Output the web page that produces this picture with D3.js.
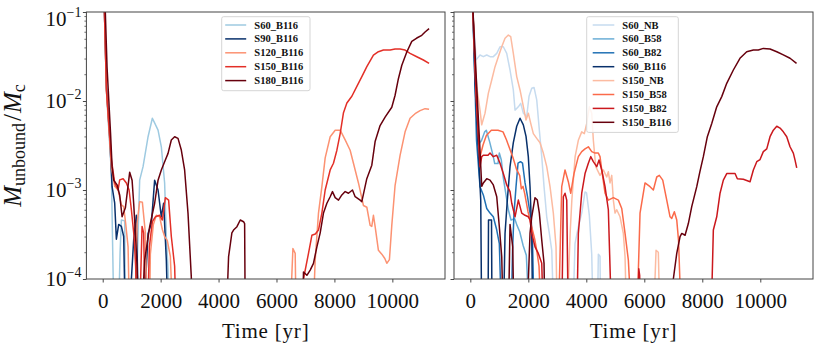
<!DOCTYPE html>
<html>
<head>
<meta charset="utf-8">
<script src="https://cdn.jsdelivr.net/npm/d3@7"></script>
<style>
  body { margin: 0; background: #fff; }
  text { font-family: "Liberation Serif", "DejaVu Serif", serif; }
</style>
</head>
<body>
<svg width="830" height="345"></svg>
<script>
// values: [time in yr, M_unbound / M_c]
// 3e-5 = dropped below the plotted range (gets clipped)

// ---- left panel ----
const L_S60_B116 = [[0,0.2],[60,0.1],[128,0.0133],[300,1.55e-3],[390,3e-5],[540,3e-5],[600,2.0e-4],[645,4.6e-4],[759,4.5e-4],[783,3e-5],
  [1128,3e-5],[1276,1.29e-3],[1393,1.83e-3],[1566,3.97e-3],[1714,6.4e-3],[1800,5.6e-3],[1911,4.7e-3],[2024,3.06e-3],[2138,1.2e-3],[2197,3.0e-4],[2256,1.26e-4],[2290,3e-5]];
const L_S90_B116 = [[0,0.2],[60,0.1],[130,0.014],[250,3.5e-3],[324,1.09e-3],[414,7.1e-4],[472,2.8e-4],[552,4.1e-4],[645,3.9e-4],[724,3.0e-4],[783,3e-5],
  [897,3e-5],[1069,2.74e-4],[1162,5.2e-4],[1242,3e-5],[1404,3e-5],[1566,3.25e-4],[1680,4.2e-4],[1793,1.29e-3],[1911,1e-3],[2024,5.0e-4],[2104,7.1e-4],[2197,1.63e-4],[2256,3e-5]];
const L_S120_B116 = [[0,0.2],[60,0.1],[130,0.013],[300,1.8e-3],[414,1.1e-3],[531,1e-3],[645,6.8e-4],[724,6.5e-4],[793,4.2e-4],[876,2.3e-4],[931,3e-5],
  [1104,3e-5],[1186,4.2e-4],[1276,7.4e-4],[1369,7.3e-4],[1473,3.3e-4],[1531,3e-5],[1611,3e-5],[1645,1.9e-4],[1749,4.1e-4],[1852,5.2e-4],[1966,5e-4],[2059,3.6e-4],
  [2138,3.0e-4],[2231,2.7e-4],[2335,1.8e-4],[2428,3e-5],[6460,3e-5],[6567,2.2e-4],[6646,1.94e-4],[6681,3e-5],[7250,3e-5],[7336,1.63e-4],[7450,5.5e-4],
  [7567,1.09e-3],[7681,2.3e-3],[7854,3.97e-3],[8026,4.7e-3],[8199,4.7e-3],[8371,3.65e-3],[8543,2.8e-3],[8657,2.0e-3],[8830,1.2e-3],[8947,8.1e-4],[9002,6.7e-4],
  [9119,6.4e-4],[9233,4.0e-4],[9290,3.9e-4],[9347,5.2e-4],[9405,3.9e-4],[9519,2.1e-4],[9636,1.9e-4],[9740,1.7e-4],[9809,1.5e-4],[9899,1.65e-4],[9981,4.0e-4],
  [10095,1.13e-3],[10267,2.45e-3],[10440,4.5e-3],[10612,6.4e-3],[10785,7.2e-3],[10957,7.8e-3],[11130,8.2e-3],[11268,8.1e-3]];
const L_S150_B116 = [[0,0.2],[60,0.1],[130,0.013],[300,2.2e-3],[414,1.2e-3],[531,1e-3],[586,1.3e-3],[704,1.34e-3],[817,1.2e-3],[911,1e-3],[990,6e-4],[1083,3.0e-4],
  [1138,1.37e-4],[1180,3e-5],[1266,3e-5],[1359,3.9e-4],[1414,3.3e-4],[1473,3e-5],[1542,3e-5],[1611,2.3e-4],[1714,4.4e-4],[1818,5.0e-4],[1966,5.2e-4],[2059,4.6e-4],
  [2163,8.2e-4],[2276,7.7e-4],[2369,3.0e-4],[2483,1.4e-4],[2542,3e-5],[6880,3e-5],[6932,1e-4],[7105,1.94e-4],[7222,3.1e-4],[7340,3.2e-4],[7450,3.55e-4],[7567,5.5e-4],
  [7681,1e-3],[7854,1.68e-3],[7967,2.0e-3],[8085,2.8e-3],[8199,4.3e-3],[8313,7.4e-3],[8430,9.5e-3],[8602,0.0113],[8775,0.0146],[8947,0.0188],[9119,0.0243],
  [9347,0.0328],[9519,0.0358],[9692,0.0374],[9923,0.0374],[10095,0.0384],[10267,0.0384],[10440,0.0374],[10612,0.0343],[10843,0.0314],[11071,0.0289],[11268,0.0265]];
const L_S180_B116 = [[0,0.25],[90,0.1],[150,0.024],[270,4.4e-3],[324,1.83e-3],[379,1.29e-3],[497,1.14e-3],[586,8.8e-4],[669,5.0e-4],[783,6.3e-4],[931,1.58e-3],
  [1014,1.29e-3],[1069,7.1e-4],[1128,3.3e-4],[1186,1.4e-4],[1240,3e-5],[1335,3e-5],[1449,1.63e-4],[1621,3.87e-4],[1793,7.1e-4],[1911,1.29e-3],[2024,1.68e-3],
  [2138,2.08e-3],[2256,2.58e-3],[2369,3.65e-3],[2483,3.97e-3],[2600,3.8e-3],[2714,2.81e-3],[2828,1.68e-3],[2945,5.5e-4],[3059,1.05e-4],[3100,3e-5],[4260,3e-5],
  [4346,1.78e-4],[4460,3.3e-4],[4518,3.55e-4],[4635,3.87e-4],[4749,4.6e-4],[4863,4.4e-4],[4900,4.2e-4],[4922,3e-5],[6900,3e-5],[6932,1.2e-4],[7050,1.1e-4],
  [7164,1.26e-4],[7277,1.5e-4],[7395,2.3e-4],[7509,3.3e-4],[7622,5.5e-4],[7740,7.1e-4],[7854,8.4e-4],[7933,9.6e-4],[8026,8.2e-4],[8140,7.7e-4],[8257,8.8e-4],
  [8371,9.6e-4],[8485,9.2e-4],[8623,1e-3],[8716,8.4e-4],[8888,7.7e-4],[8946,7.4e-4],[9118,1.34e-3],[9291,1.9e-3],[9405,3.5e-3],[9577,5.3e-3],[9750,6.6e-3],
  [9981,8.5e-3],[10095,0.0116],[10209,0.0178],[10327,0.0252],[10499,0.0355],[10671,0.0468],[10844,0.051],[11016,0.0547],[11130,0.0596],[11268,0.065]];

// ---- right panel ----
const R_S60_NB = [[0,0.2],[90,0.1],[200,0.029],[334,0.0329],[448,0.0315],[566,0.0329],[679,0.0315],[793,0.0315],[911,0.0343],[1024,0.0407],[1138,0.0407],
  [1255,0.0343],[1369,0.0223],[1483,0.0133],[1542,7.9e-3],[1656,8.6e-3],[1738,9.4e-3],[1828,7.3e-3],[1945,6.7e-3],[2025,0.0113],[2118,0.0139],[2197,0.0142],
  [2290,0.0103],[2380,4.7e-3],[2463,2.37e-3],[2542,1.09e-3],[2635,5.0e-4],[2725,3.25e-4],[2808,2.1e-4],[2887,3e-5],[3525,3e-5],[3611,2.5e-4],[3725,3.87e-4],
  [3842,5.5e-4],[3956,9.5e-4],[4008,9.3e-4],[4104,5.2e-4],[4187,1.9e-4],[4242,3e-5],[4380,3e-5],[4415,1.9e-4],[4473,1.8e-4],[4497,3e-5]];
const R_S60_B58 = [[0,0.2],[90,0.1],[200,0.01],[266,3.2e-3],[386,3.6e-3],[496,4.5e-3],[552,4.7e-3],[669,3.45e-3],[783,2.45e-3],[841,1.98e-3],[955,1.98e-3],
  [1000,2.6e-3],[1069,2.17e-3],[1138,1.37e-3],[1231,8.8e-4],[1311,6.0e-4],[1404,4.6e-4],[1531,4.75e-4],[1611,4.0e-4],[1704,3.4e-4],[1818,2.4e-4],[1931,1.85e-4],[2049,3e-5]];
const R_S60_B82 = [[0,0.2],[90,0.1],[214,3.6e-3],[334,1.09e-3],[448,8.8e-4],[566,6.2e-4],[679,5.5e-4],[793,5.0e-4],[911,3.55e-4],[1000,2.5e-4],[1083,3e-5],
  [1404,3e-5],[1456,2.1e-4],[1507,5.5e-4],[1576,1.09e-3],[1645,2.0e-3],[1731,2.08e-3],[1800,2.0e-3],[1887,1.2e-3],[1973,8.4e-4],[2059,5.5e-4],[2145,2.74e-4],[2204,3e-5]];
const R_S60_B116 = [[0,0.2],[90,0.1],[162,0.0158],[276,2.8e-3],[359,7.7e-4],[393,3e-5],[610,3e-5],[627,4.6e-4],[731,4.6e-4],[748,3e-5],[1138,3e-5],[1197,3.25e-4],
  [1276,7.7e-4],[1369,1.83e-3],[1483,3.4e-3],[1600,5.2e-3],[1714,6.4e-3],[1828,5.4e-3],[1921,4.0e-3],[2000,2.37e-3],[2059,1.09e-3],[2118,3.25e-4],[2152,3e-5]];
const R_S150_NB = [[0,0.2],[90,0.1],[162,0.0289],[221,0.0145],[334,7.9e-3],[393,5.4e-3],[507,7.3e-3],[621,0.0122],[738,0.0172],[852,0.0243],[966,0.0314],
  [1083,0.0407],[1197,0.0507],[1311,0.0551],[1393,0.0528],[1483,0.0343],[1600,0.0188],[1714,0.0133],[1807,9.4e-3],[1921,6.1e-3],[2000,7.3e-3],[2083,5.6e-3],
  [2173,4.3e-3],[2290,3.8e-3],[2404,3.4e-3],[2518,2.6e-3],[2635,1.83e-3],[2749,1.09e-3],[2863,5.5e-4],[2956,2.3e-4],[3001,3e-5],[3328,3e-5],[3442,3.25e-4],
  [3501,7.7e-4],[3614,2.37e-3],[3728,3.65e-3],[3842,4.5e-3],[3932,4.3e-3],[4015,5.6e-3],[4104,8.6e-3],[4187,7.3e-3],[4242,3.65e-3],[4325,1.83e-3],[4473,1.46e-3],
  [4587,1.68e-3],[4704,1.4e-3],[4760,1.6e-3],[4818,1.2e-3],[4877,1.46e-3],[4932,7.7e-4],[4991,5.5e-4],[5049,6.0e-4],[5163,5.0e-4],[5277,3.25e-4],[5336,1.78e-4],
  [5394,3e-5],[6312,3e-5],[6405,2.1e-4],[6484,2.0e-4],[6543,3e-5]];
const R_S150_B58 = [[0,0.2],[90,0.1],[200,0.012],[324,2.3e-3],[438,3.2e-3],[552,4.1e-3],[724,4.7e-3],[955,4.7e-3],[1128,4.5e-3],[1242,3.7e-3],[1359,2.9e-3],
  [1473,2.3e-3],[1587,1.73e-3],[1704,1.45e-3],[1759,1.03e-3],[1818,1.1e-3],[1876,9.1e-4],[1990,5.7e-4],[2104,4.0e-4],[2221,2.8e-4],[2300,2.0e-4],[2369,1.4e-4],
  [2449,3e-5],[3035,3e-5],[3152,1.09e-3],[3266,1.68e-3],[3380,1.24e-3],[3463,9.2e-4],[3576,1.53e-3],[3725,2.37e-3],[3842,2.7e-3],[3956,2.9e-3],[4070,3.06e-3],
  [4187,2.7e-3],[4301,2.6e-3],[4415,2.6e-3],[4473,2.37e-3],[4532,1.68e-3],[4646,9.2e-4],[4760,7.7e-4],[4932,8.2e-4],[5105,7.7e-4],[5222,6.2e-4],[5336,3.25e-4],
  [5450,1.63e-4],[5567,3e-5],[5739,3e-5],[5853,5.5e-4],[6025,1.2e-3],[6198,1.09e-3],[6312,1e-3],[6429,1.4e-3],[6518,1.46e-3],[6636,1.29e-3],[6774,7.7e-4],
  [6888,5.0e-4],[6946,4.8e-4],[7036,5.7e-4],[7119,4.6e-4],[7181,2.7e-4],[7280,3e-5]];
const R_S150_B82 = [[0,0.2],[90,0.1],[200,0.012],[334,1.83e-3],[393,2.37e-3],[448,2.46e-3],[610,2.46e-3],[679,2.6e-3],[793,2.37e-3],[911,2.46e-3],[1024,2.0e-3],
  [1138,1.53e-3],[1255,1.14e-3],[1369,9.6e-4],[1428,7.1e-4],[1542,5.0e-4],[1656,7.7e-4],[1773,5.5e-4],[1887,5.2e-4],[2000,5.0e-4],[2059,4.6e-4],[2118,3.25e-4],
  [2231,2.3e-4],[2345,1.94e-4],[2463,1.5e-4],[2525,3e-5],[3152,3e-5],[3208,8.4e-4],[3266,9.2e-4],[3325,7.7e-4],[3380,3e-5],[3670,3e-5],[3725,3.25e-4],[3842,9.2e-4],
  [3956,1.53e-3],[4070,2.0e-3],[4153,2.37e-3],[4242,2.08e-3],[4360,1.83e-3],[4439,2.17e-3],[4532,1.68e-3],[4646,1.09e-3],[4760,6.0e-4],[4877,3e-5],[5780,3e-5],
  [5810,1.3e-4],[5840,1.1e-4],[5870,3e-5],[8300,3e-5],[8381,3.55e-4],[8498,5.0e-4],[8612,9.2e-4],[8726,1.29e-3],[8843,1.53e-3],[9016,1.53e-3],[9130,1.53e-3],
  [9209,1.34e-3],[9416,1.32e-3],[9647,1.24e-3],[9761,1.68e-3],[9878,2.08e-3],[9992,2.2e-3],[10105,2.7e-3],[10223,2.9e-3],[10336,3.97e-3],[10450,4.7e-3],
  [10568,5.2e-3],[10681,4.96e-3],[10795,4.5e-3],[10912,3.97e-3],[11026,3.06e-3],[11140,2.6e-3],[11199,2.17e-3],[11257,1.77e-3]];
const R_S150_B116 = [[0,0.25],[93,0.1],[207,0.0178],[324,3.2e-3],[393,1.1e-3],[448,1.2e-3],[566,1.34e-3],[679,1.29e-3],[793,1.14e-3],[911,8.4e-4],[1000,3.87e-4],
  [1083,1.78e-4],[1138,3e-5],[1311,3e-5],[1369,4.1e-4],[1462,2.3e-4],[1507,3e-5],[1945,3e-5],[2059,3.25e-4],[2118,5.0e-4],[2231,8.2e-4],[2311,7.7e-4],[2380,5.5e-4],
  [2463,2.74e-4],[2542,1.5e-4],[2576,3e-5],[6960,3e-5],[7001,1e-4],[7119,1.94e-4],[7233,3.0e-4],[7292,3.25e-4],[7406,3.1e-4],[7519,4.2e-4],[7636,6.5e-4],
  [7809,1.09e-3],[7916,1.6e-3],[8036,2.37e-3],[8174,3.97e-3],[8326,5.6e-3],[8498,8.6e-3],[8671,0.0112],[8843,0.0158],[9071,0.0223],[9299,0.0302],[9532,0.0358],
  [9761,0.0374],[9933,0.0374],[10105,0.039],[10336,0.0384],[10568,0.0358],[10795,0.033],[11026,0.0302],[11250,0.0265]];

const leftNames = ["S60_B116", "S90_B116", "S120_B116", "S150_B116", "S180_B116"];
const leftData = [L_S60_B116, L_S90_B116, L_S120_B116, L_S150_B116, L_S180_B116];
const leftColors = ["#9ecae1", "#08306b", "#fc9272", "#e32f27", "#67000d"];

const rightNames = ["S60_NB", "S60_B58", "S60_B82", "S60_B116", "S150_NB", "S150_B58", "S150_B82", "S150_B116"];
const rightData = [R_S60_NB, R_S60_B58, R_S60_B82, R_S60_B116, R_S150_NB, R_S150_B58, R_S150_B82, R_S150_B116];
const rightColors = ["#c6dbef", "#6baed6", "#2171b5", "#08306b", "#fcbba1", "#fb6a4a", "#cb181d", "#67000d"];

const xTicks = [0, 2000, 4000, 6000, 8000, 10000];
const yTicks = [1e-4, 1e-3, 1e-2, 1e-1];
const yExp = ["\u22124", "\u22123", "\u22122", "\u22121"];

let svg = d3.select("svg");

const yTop = 12, yBottom = 279;
let y = d3.scaleLog().domain([1e-4, 1e-1]).range([yBottom, yTop]);

let minorTicks = [];
[1e-4, 1e-3, 1e-2].forEach(d => { for (let k = 2; k <= 9; k++) minorTicks.push(d * k); });

function panel(id, x0, x1, names, data, colors, leg, withLabels) {
  let x = d3.scaleLinear().domain([-563, 11818]).range([x0, x1]);
  let g = svg.append("g");

  svg.append("clipPath").attr("id", "clip" + id)
    .append("rect").attr("x", x0).attr("y", yTop).attr("width", x1 - x0).attr("height", yBottom - yTop);

  let line = d3.line().x(d => x(d[0])).y(d => y(d[1]));

  g.append("g").attr("clip-path", `url(#clip${id})`)
    .selectAll("path")
    .data(data)
    .enter().append("path")
    .attr("d", line)
    .attr("fill", "none")
    .attr("stroke", (d, i) => colors[i])
    .attr("stroke-width", 1.5)
    .attr("stroke-linejoin", "round");

  // x axis
  let xa = g.append("g").attr("transform", `translate(0,${yBottom})`)
    .call(d3.axisBottom(x).tickValues(xTicks).tickSize(3.5).tickPadding(11).tickFormat(d3.format("d")));
  xa.select(".domain").remove();
  xa.selectAll("line").attr("stroke", "#333").attr("stroke-width", 0.9);
  xa.selectAll("text").attr("fill", "#111").style("font-size", "21px")
    .style("font-family", "'Liberation Serif', serif");

  // y axis
  let ya = g.append("g").attr("transform", `translate(${x0},0)`)
    .call(d3.axisLeft(y).tickValues(yTicks).tickSize(3.5).tickFormat(""));
  ya.select(".domain").remove();
  ya.selectAll("line").attr("stroke", "#333").attr("stroke-width", 0.9);
  let ym = g.append("g").attr("transform", `translate(${x0},0)`)
    .call(d3.axisLeft(y).tickValues(minorTicks).tickSize(2).tickFormat(""));
  ym.select(".domain").remove();
  ym.selectAll("line").attr("stroke", "#333").attr("stroke-width", 0.7);

  if (withLabels) {
    yTicks.forEach((v, i) => {
      // top label sits a bit lower in the original, it would run off the page
      let t = g.append("text")
        .attr("x", x0 - 5).attr("y", Math.max(y(v) + 7, 26))
        .attr("text-anchor", "end")
        .attr("fill", "#111")
        .style("font-size", "21px");
      t.append("tspan").text("10");
      t.append("tspan").attr("dy", -9).style("font-size", "14px").text(yExp[i]);
    });
  }

  // frame
  g.append("rect")
    .attr("x", x0).attr("y", yTop).attr("width", x1 - x0).attr("height", yBottom - yTop)
    .attr("fill", "none").attr("stroke", "#444").attr("stroke-width", 1);

  // x label
  g.append("text")
    .attr("x", (x0 + x1) / 2).attr("y", 338)
    .attr("text-anchor", "middle")
    .attr("fill", "#111")
    .style("font-size", "21px")
    .style("letter-spacing", "0.8px")
    .text("Time [yr]");

  // legend
  let lg = g.append("g").attr("transform", `translate(${leg.x},${leg.y})`);
  lg.append("rect")
    .attr("width", leg.w).attr("height", names.length * 13.9 + 4.5)
    .attr("rx", 2)
    .attr("fill", "white").attr("fill-opacity", 0.85)
    .attr("stroke", "#d5d5d5").attr("stroke-width", 1);
  names.forEach((n, i) => {
    let yy = 8.3 + i * 13.9;
    lg.append("line")
      .attr("x1", leg.h0).attr("x2", leg.h1)
      .attr("y1", yy).attr("y2", yy)
      .attr("stroke", colors[i]).attr("stroke-width", 1.5);
    lg.append("text")
      .attr("x", leg.tx).attr("y", yy + 3.6)
      .attr("fill", "#111")
      .style("font-size", "10.5px")
      .style("font-weight", "bold")
      .text(n);
  });
}

panel("L", 86.4, 445, leftNames, leftData, leftColors, {x: 221.7, y: 16.7, w: 88.3, h0: 3.5, h1: 24.5, tx: 32.6}, true);
panel("R", 454, 813, rightNames, rightData, rightColors, {x: 586.7, y: 16.7, w: 91.6, h0: 6, h1: 27.6, tx: 35.6}, false);

// y label
let yl = svg.append("text")
  .attr("transform", "translate(21,145.5) rotate(-90)")
  .attr("text-anchor", "middle")
  .attr("fill", "#111")
  .style("font-size", "25px");
yl.append("tspan").style("font-style", "italic").text("M");
yl.append("tspan").attr("dy", 4).style("font-size", "18px").text("unbound");
yl.append("tspan").attr("dy", -4).attr("dx", 2).text("/");
yl.append("tspan").attr("dx", 1).style("font-style", "italic").text("M");
yl.append("tspan").attr("dy", 4).style("font-size", "18px").text("c");
</script>
</body>
</html>
